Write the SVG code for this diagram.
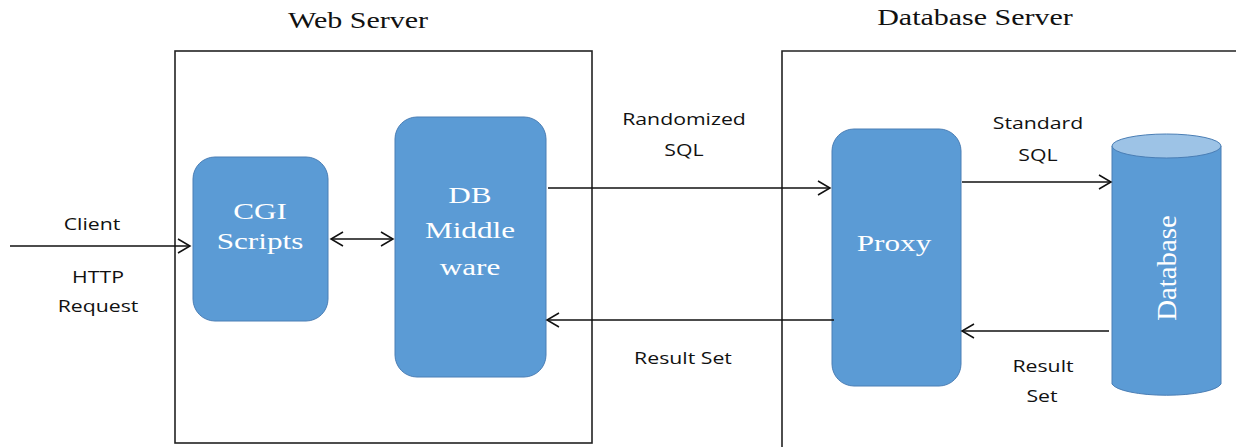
<svg xmlns="http://www.w3.org/2000/svg" width="1236" height="447" viewBox="0 0 1236 447">
<style>
.frame{fill:none;stroke:#222;stroke-width:1.6}
.node{fill:#5B9BD5;stroke:#4A7EB5;stroke-width:1}
.ntext{font-family:"Liberation Serif",serif;font-size:24px;fill:#fff;text-anchor:middle}
.title{font-family:"Liberation Serif",serif;font-size:24px;fill:#111;text-anchor:middle}
.lbl{font-family:"Open Sans","DejaVu Sans",sans-serif;font-size:17px;fill:#111;text-anchor:middle}
.conn{stroke:#111;stroke-width:1.6;fill:none}
</style>
<defs>
<marker id="ah" viewBox="0 0 16 16" refX="14" refY="8" markerWidth="16" markerHeight="16" markerUnits="userSpaceOnUse" orient="auto-start-reverse">
<path d="M2,1 L14,8 L2,15" fill="none" stroke="#111" stroke-width="1.5"/>
</marker>
</defs>
<g id="web-server">
<rect class="frame" x="175" y="51" width="417" height="392"/>
<text class="title" transform="translate(358,28) scale(1.25,1)">Web Server</text>
</g>
<g id="database-server">
<path class="frame" d="M782,447 L782,51 L1240,51"/>
<text class="title" transform="translate(975,25) scale(1.25,1)">Database Server</text>
</g>
<g id="cgi-scripts">
<rect class="node" x="193" y="157" width="135" height="164" rx="22"/>
<text class="ntext" transform="translate(260,219) scale(1.3,1)">CGI</text>
<text class="ntext" transform="translate(260,249) scale(1.3,1)">Scripts</text>
</g>
<g id="db-middleware">
<rect class="node" x="395" y="117" width="151" height="260" rx="22"/>
<text class="ntext" transform="translate(470,203) scale(1.3,1)">DB</text>
<text class="ntext" transform="translate(470,238) scale(1.3,1)">Middle</text>
<text class="ntext" transform="translate(470,275) scale(1.3,1)">ware</text>
</g>
<g id="proxy">
<rect class="node" x="832" y="129" width="129" height="257" rx="22"/>
<text class="ntext" transform="translate(894,251) scale(1.3,1)">Proxy</text>
</g>
<g id="database">
<path class="node" d="M1112,146 L1112,384 A55,13 0 0 0 1221,384 L1221,146"/>
<ellipse cx="1166.5" cy="146" rx="54.5" ry="12" fill="#9DC3E6" stroke="#4A7EB5" stroke-width="1"/>
<text class="ntext" transform="translate(1176,268) rotate(-90) scale(1.2,1.15)">Database</text>
</g>
<g id="connectors">
<line class="conn" x1="10" y1="246" x2="190" y2="246" marker-end="url(#ah)"/>
<line class="conn" x1="331" y1="239" x2="393" y2="239" marker-start="url(#ah)" marker-end="url(#ah)"/>
<line class="conn" x1="548" y1="188" x2="830" y2="188" marker-end="url(#ah)"/>
<line class="conn" x1="834" y1="320" x2="547" y2="320" marker-end="url(#ah)"/>
<line class="conn" x1="962" y1="182" x2="1111" y2="182" marker-end="url(#ah)"/>
<line class="conn" x1="1109" y1="331" x2="962" y2="331" marker-end="url(#ah)"/>
</g>
<g id="labels">
<text class="lbl" transform="translate(92,230) scale(1.25,1)">Client</text>
<text class="lbl" transform="translate(98,283) scale(1.25,1)">HTTP</text>
<text class="lbl" transform="translate(98,312) scale(1.25,1)">Request</text>
<text class="lbl" transform="translate(684,125) scale(1.25,1)">Randomized</text>
<text class="lbl" transform="translate(684,156) scale(1.25,1)">SQL</text>
<text class="lbl" transform="translate(683,364) scale(1.25,1)">Result Set</text>
<text class="lbl" transform="translate(1038,129) scale(1.25,1)">Standard</text>
<text class="lbl" transform="translate(1038,161) scale(1.25,1)">SQL</text>
<text class="lbl" transform="translate(1043,372) scale(1.25,1)">Result</text>
<text class="lbl" transform="translate(1042,402) scale(1.25,1)">Set</text>
</g>
</svg>
